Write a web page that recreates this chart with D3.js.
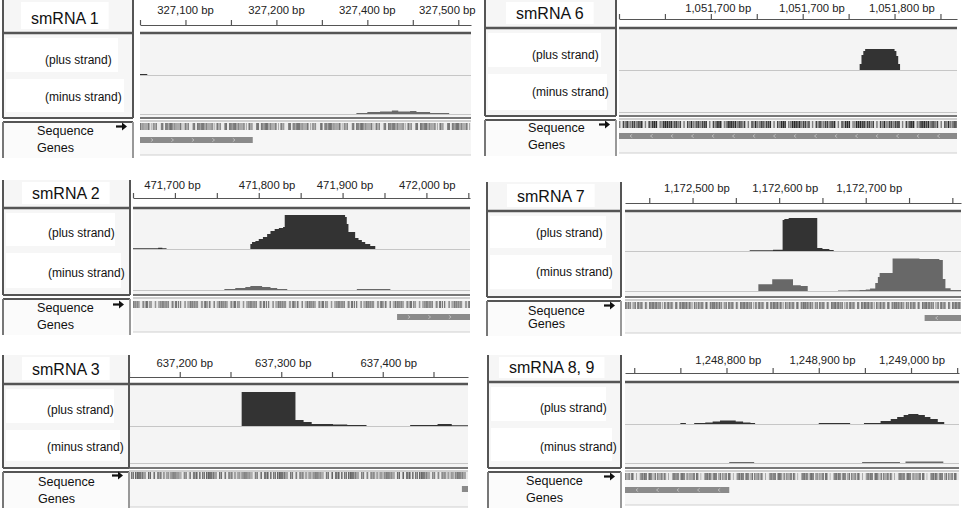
<!DOCTYPE html>
<html><head><meta charset="utf-8">
<script src="https://cdn.jsdelivr.net/npm/d3@7"></script>
<style>
body{margin:0;background:#fff}
svg{display:block;font-family:"Liberation Sans",Arial,sans-serif}
</style>
</head><body>
<svg id="c" width="964" height="508"></svg>
<script>
// ---------------- DATA ----------------
const titles = ["smRNA 1", "smRNA 6", "smRNA 2", "smRNA 7", "smRNA 3", "smRNA 8, 9"];
const domains = [[327050, 327414], [1051650, 1051834], [471650, 472052], [1172422, 1172810], [637150, 637484], [1248690, 1249052]];
const tickSteps = [50, 25, 50, 50, 50, 50];
const tickLabels = [
  [[327100, "327,100 bp"], [327200, "327,200 bp"], [327300, "327,400 bp"], [327388, "327,500 bp"]],
  [[1051704, "1,051,700 bp"], [1051755, "1,051,700 bp"], [1051804, "1,051,800 bp"]],
  [[471697, "471,700 bp"], [471810, "471,800 bp"], [471903, "471,900 bp"], [472001, "472,000 bp"]],
  [[1172505, "1,172,500 bp"], [1172607, "1,172,600 bp"], [1172704, "1,172,700 bp"]],
  [[637205, "637,200 bp"], [637302, "637,300 bp"], [637406, "637,400 bp"]],
  [[1248802, "1,248,800 bp"], [1248904, "1,248,900 bp"], [1249001, "1,249,000 bp"]]
];
// coverage: [position bp, reads] step-after
const plusCoverage = [
  [[327050, 1], [327058, 0]],
  [[1051781, 6], [1051782, 15], [1051783, 19], [1051784, 21], [1051800, 19], [1051801, 14], [1051802, 6], [1051803, 0]],
  [[471650, 0.8], [471680, 1.3], [471685, 0.8], [471690, 0],
   [471790, 5], [471792, 7], [471796, 8], [471800, 10], [471805, 12], [471810, 15], [471814, 18], [471819, 20], [471824, 21], [471829, 22],
   [471831, 34], [471903, 32], [471905, 25], [471907, 17], [471915, 11], [471919, 9], [471923, 7], [471927, 5], [471933, 3], [471939, 0]],
  [[1172566, 0.7], [1172593, 1.2], [1172604, 31], [1172606, 32], [1172611, 33], [1172644, 3], [1172650, 2], [1172658, 1], [1172663, 0]],
  [[637261, 34], [637314, 6], [637322, 4], [637330, 2], [637351, 1.5], [637365, 1], [637384, 0], [637427, 1], [637454, 2], [637468, 0.7], [637484, 0]],
  [[1248750, 1], [1248756, 0], [1248765, 1], [1248777, 1.5], [1248785, 2.5], [1248793, 3.5], [1248810, 2.5], [1248818, 1.5], [1248826, 1], [1248831, 0],
   [1248900, 1], [1248934, 0], [1248949, 1], [1248967, 3], [1248978, 5], [1248985, 7], [1248992, 9], [1248997, 10], [1249008, 9], [1249015, 7],
   [1249021, 5], [1249029, 2], [1249036, 0]]
];
const minusCoverage = [
  [[327288, 1], [327300, 2], [327314, 2.5], [327327, 3.5], [327334, 2.5], [327347, 3], [327354, 2], [327369, 1], [327390, 0]],
  [],
  [[471759, 1], [471772, 2], [471784, 3], [471790, 4], [471804, 3], [471814, 2], [471822, 1], [471834, 0], [471917, 1], [471957, 0]],
  [[1172576, 6.7], [1172592, 11.7], [1172616, 5.7], [1172625, 5], [1172633, 0], [1172668, 0.5], [1172680, 0.8], [1172693, 1], [1172700, 1.5],
   [1172705, 2.5], [1172711, 8], [1172714, 14], [1172716, 18], [1172731, 32.5], [1172762, 32], [1172785, 31], [1172789, 12], [1172792, 2.7],
   [1172798, 1], [1172810, 0]],
  [],
  [[1248803, 1], [1248830, 0], [1248947, 1], [1248988, 0], [1248994, 1.5], [1249035, 0]]
];
const genes = [
  [[327050, 327174, ">"]],
  [[1051650, 1051834, "<"]],
  [[471965, 472052, ">"]],
  [[1172768, 1172810, "<"]],
  [[637478, 637484, ""]],
  [[1248690, 1248803, "<"]]
];
const dnaSequence = "ATGAAAGCAATTTTCGTACTGAAAGGTTTTGTTGGTTTTCTTGCAGCGCTGGTCGCAAGCGGCAAAGCCGATGCGCTGTTTCAGGCCGCGCTGGATATGGCGGCAGAAGCCAGCGTTGCGTTTAAAGGCGGCCAGTTGCAGGATGTGCTGATTCGTGCCGCCCTGAACGATCAGGAAGTGCTGGCGATCGCCAAGCTCTATCGCGAACTGCCGCTGGCCCGTTACCCGTCGTGAAGATATTACGT";

// ---------------- LAYOUT ----------------
const layout = [
  {fl:3,   lr:133, x0:140, x1:471, ft:0,   t:33,  ruler:25,  tl:10,  plus:75,  minus:114, sep:118, seq:123, gene:137, bottom:155, titleX:31,  strandX:45,  seqX:37,  pY:60,  mY:97,  sY:131, gY:148},
  {fl:485, lr:616, x0:619, x1:957, ft:0,   t:28,  ruler:19,  tl:8,   plus:70,  minus:112, sep:116, seq:121, gene:133, bottom:153, titleX:516, strandX:532, seqX:528, pY:55,  mY:92,  sY:128, gY:145},
  {fl:3,   lr:130, x0:133, x1:470, ft:180, t:208, ruler:198, tl:185, plus:249, minus:290, sep:295, seq:301, gene:314, bottom:332, titleX:32,  strandX:48,  seqX:37,  pY:233, mY:273, sY:308, gY:325},
  {fl:487, lr:621, x0:625, x1:961, ft:182, t:211, ruler:203, tl:188, plus:251, minus:291, sep:297, seq:302, gene:315, bottom:333, titleX:517, strandX:536, seqX:528, pY:233, mY:272, sY:311, gY:324},
  {fl:3,   lr:129, x0:129, x1:468, ft:355, t:384, ruler:377, tl:363, plus:426, minus:463, sep:468, seq:472, gene:486, bottom:507, titleX:32,  strandX:47,  seqX:38,  pY:410, mY:447, sY:482, gY:499},
  {fl:488, lr:621, x0:625, x1:959, ft:355, t:382, ruler:373, tl:360, plus:424, minus:463, sep:468, seq:473, gene:487, bottom:505, titleX:509, strandX:540, seqX:526, pY:408, mY:447, sY:481, gY:498}
];
const baseColor = {A:"#2a2a2a", T:"#444444", G:"#808080", C:"#e6e6e6"};

const svg = d3.select("#c");

layout.forEach((L, i) => {
  const g = svg.append("g");
  const x = d3.scaleLinear().domain(domains[i]).range([L.x0, L.x1]);
  const h = d3.scaleLinear().domain([0, 40]).range([0, 40]);

  // label panel background
  g.append("rect").attr("x", L.fl).attr("y", L.ft).attr("width", L.lr - L.fl).attr("height", L.sep - L.ft).attr("fill", "#f6f6f6");
  g.append("rect").attr("x", L.fl).attr("y", L.sep + 4).attr("width", L.lr - L.fl).attr("height", L.bottom - L.sep - 1).attr("fill", "#fbfbfb");
  g.append("rect").attr("x", L.fl + 3).attr("y", L.t + 5).attr("width", L.lr - L.fl - 18).attr("height", L.plus - L.t - 8).attr("fill", "#fff");
  g.append("rect").attr("x", L.fl + 3).attr("y", L.plus + 4).attr("width", L.lr - L.fl - 12).attr("height", L.minus - L.plus - 6).attr("fill", "#fff");

  // data track background
  g.append("rect").attr("x", L.x0).attr("y", L.t + 1).attr("width", L.x1 - L.x0).attr("height", L.sep - L.t - 1).attr("fill", "#f4f4f4");
  g.append("rect").attr("x", L.x0).attr("y", L.sep + 2).attr("width", L.x1 - L.x0).attr("height", L.bottom - L.sep - 2).attr("fill", "#f6f6f6");

  // ruler
  const d0 = domains[i][0], d1 = domains[i][1], st = tickSteps[i];
  const tv = d3.range(Math.ceil(d0 / st) * st, d1 + 0.01, st);
  const axis = d3.axisTop(x).tickValues(tv).tickSize(5).tickSizeOuter(0).tickFormat("");
  const ax = g.append("g").attr("transform", `translate(0,${L.ruler})`).call(axis);
  ax.select(".domain").attr("stroke", "#555").attr("stroke-width", 1.2);
  ax.selectAll(".tick line").attr("stroke", "#555").attr("stroke-width", 1.2);
  g.selectAll("text.tl").data(tickLabels[i]).join("text")
    .attr("x", d => x(d[0])).attr("y", L.tl).attr("dy", "0.35em")
    .attr("text-anchor", "middle").attr("font-size", 11.3).attr("fill", "#222").text(d => d[1]);

  // thick line under ruler
  g.append("line").attr("x1", L.x0).attr("x2", L.x1).attr("y1", L.t).attr("y2", L.t).attr("stroke", "#555").attr("stroke-width", 2.5);

  // baselines
  [L.plus, L.minus].forEach(b => g.append("line").attr("x1", L.x0).attr("x2", L.x1).attr("y1", b + 0.5).attr("y2", b + 0.5).attr("stroke", "#c6c6c6").attr("stroke-width", 1));

  // coverage areas
  const areaFor = base => d3.area().curve(d3.curveStepAfter).x(d => x(d[0])).y0(base).y1(d => base - h(d[1]));
  g.append("path").datum(plusCoverage[i]).attr("d", areaFor(L.plus)).attr("fill", "#333");
  if (minusCoverage[i].length) g.append("path").datum(minusCoverage[i]).attr("d", areaFor(L.minus)).attr("fill", "#686868");

  // separator lines
  g.append("line").attr("x1", L.x0).attr("x2", L.x1).attr("y1", L.sep).attr("y2", L.sep).attr("stroke", "#777").attr("stroke-width", 2);
  g.append("line").attr("x1", L.x0).attr("x2", L.x1).attr("y1", L.sep + 3).attr("y2", L.sep + 3).attr("stroke", "#aaa").attr("stroke-width", 1);

  // sequence track
  const bases = d3.range(Math.floor(d0), Math.ceil(d1));
  g.append("rect").attr("x", L.x0).attr("y", L.seq).attr("width", L.x1 - L.x0).attr("height", 7).attr("fill", "#f0f0f0");
  g.append("g").selectAll("rect").data(bases).join("rect")
    .attr("x", b => x(b)).attr("y", L.seq)
    .attr("width", b => Math.max(0.6, x(b + 1) - x(b) - 0.3)).attr("height", 7)
    .attr("fill", b => baseColor[dnaSequence[(b * 7 + i * 31) % dnaSequence.length]]);

  // genes
  genes[i].forEach(gn => {
    const gx0 = x(gn[0]), gx1 = x(gn[1]);
    g.append("rect").attr("x", gx0).attr("y", L.gene).attr("width", gx1 - gx0).attr("height", 6).attr("fill", "#8a8a8a");
    if (gn[2]) {
      const pts = d3.range(gx0 + 12, gx1 - 4, 20.5);
      g.selectAll(null).data(pts).join("path")
        .attr("d", p => gn[2] === ">" ? `M${p - 1.2},${L.gene + 1.3}L${p + 1},${L.gene + 3}L${p - 1.2},${L.gene + 4.7}` : `M${p + 1.2},${L.gene + 1.3}L${p - 1},${L.gene + 3}L${p + 1.2},${L.gene + 4.7}`)
        .attr("fill", "none").attr("stroke", "#c4c4c4").attr("stroke-width", 0.8);
    }
  });

  // bottom line
  g.append("line").attr("x1", L.x0).attr("x2", L.x1).attr("y1", L.bottom).attr("y2", L.bottom).attr("stroke", "#d0d0d0").attr("stroke-width", 1);

  // label panel frame
  const ln = (x1, y1, x2, y2, c, w) => g.append("line").attr("x1", x1).attr("y1", y1).attr("x2", x2).attr("y2", y2).attr("stroke", c).attr("stroke-width", w);
  ln(L.fl, L.ft, L.fl, L.sep, "#555", 2);
  ln(L.lr, L.ft, L.lr, L.sep, "#555", 2);
  ln(L.fl, L.t, L.lr, L.t, "#555", 2.5);
  ln(L.fl, L.sep, L.lr, L.sep, "#555", 2);
  ln(L.fl, L.sep + 4, L.lr, L.sep + 4, "#555", 2);
  ln(L.fl, L.sep + 4, L.fl, L.bottom + 3, "#777", 2);
  ln(L.lr, L.sep + 4, L.lr, L.bottom + 3, "#999", 2);

  // title with white box
  const tt = g.append("text").attr("x", L.titleX).attr("y", L.t - 14.5).attr("dy", "0.35em").attr("font-size", 16).attr("fill", "#111").text(titles[i]);
  const bb = tt.node().getBBox();
  g.insert("rect", () => tt.node()).attr("x", bb.x - 10).attr("y", L.ft + 2).attr("width", bb.width + 20).attr("height", L.t - L.ft - 6).attr("fill", "#fff");

  // labels
  const lab = (tx, ty, s, fs) => g.append("text").attr("x", tx).attr("y", ty).attr("dy", "0.35em").attr("font-size", fs).attr("fill", "#111").text(s);
  lab(L.strandX, L.pY, "(plus strand)", 12);
  lab(L.strandX, L.mY, "(minus strand)", 12);
  lab(L.seqX, L.sY, "Sequence", 12.6);
  lab(L.seqX, L.gY, "Genes", 12.6);

  // strand arrow
  const ay = L.seq + 3.5, ax1 = L.lr - 6;
  g.append("line").attr("x1", ax1 - 11).attr("x2", ax1 - 3).attr("y1", ay).attr("y2", ay).attr("stroke", "#111").attr("stroke-width", 2.2);
  g.append("path").attr("d", `M${ax1 - 5},${ay - 4}L${ax1},${ay}L${ax1 - 5},${ay + 4}Z`).attr("fill", "#111");
});
</script>
</body></html>
